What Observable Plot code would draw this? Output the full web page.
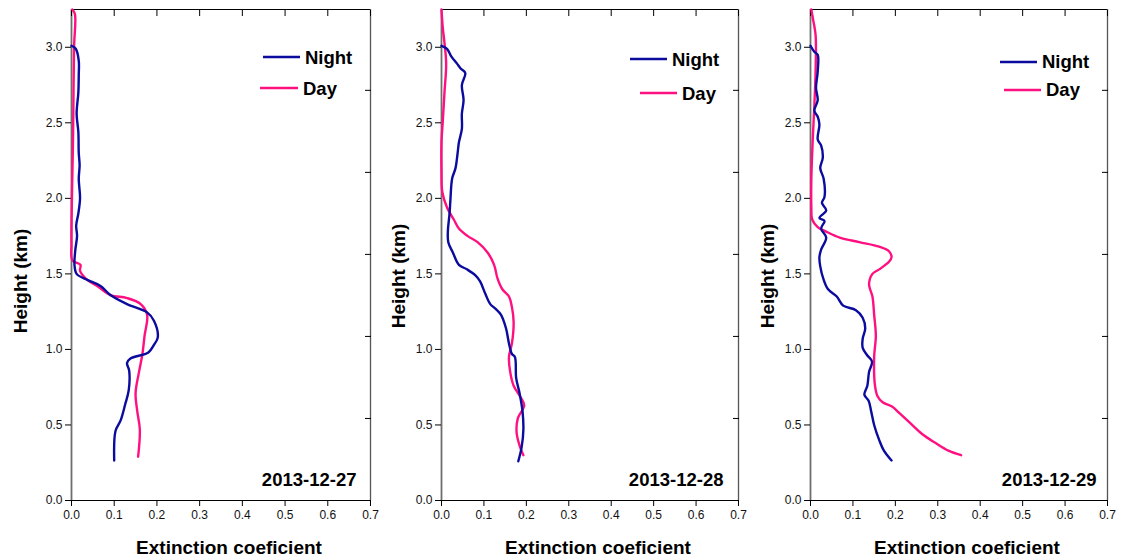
<!DOCTYPE html>
<html><head><meta charset="utf-8">
<script src="https://cdn.jsdelivr.net/npm/d3@7"></script>
<script src="https://cdn.jsdelivr.net/npm/@observablehq/plot@0.6"></script>
<style>
body{margin:0;background:#fff;}
#wrap{position:relative;width:1121px;height:560px;font-family:"Liberation Sans",Arial,sans-serif;overflow:hidden;}
.panel{position:absolute;top:0;}
#legend{position:absolute;left:0;top:0;pointer-events:none;}
</style></head><body><div id="wrap"></div>
<script>
const dates = ["2013-12-27", "2013-12-28", "2013-12-29"];
const seriesNames = ["Night", "Day"];
const seriesColors = ["#0b0b9e", "#ff1080"];
const xTicks = [0, 0.1, 0.2, 0.3, 0.4, 0.5, 0.6, 0.7];
const yTicks = [0, 0.5, 1.0, 1.5, 2.0, 2.5, 3.0];
const rightTicks = [0.543, 1.086, 1.629, 2.172, 2.715];
const xTitle = "Extinction coeficient";
const yTitle = "Height (km)";

// [extinction, height km], bottom to top
const night27 = [[0.100,0.265],[0.103,0.46],[0.115,0.53],[0.126,0.64],[0.134,0.73],[0.135,0.86],[0.130,0.91],[0.138,0.94],[0.180,0.98],[0.193,1.03],[0.202,1.08],[0.193,1.19],[0.177,1.245],[0.130,1.30],[0.091,1.36],[0.068,1.42],[0.037,1.46],[0.012,1.50],[0.007,1.56],[0.009,1.66],[0.013,1.75],[0.011,1.82],[0.016,1.90],[0.020,2.00],[0.017,2.13],[0.019,2.22],[0.017,2.30],[0.016,2.44],[0.012,2.56],[0.016,2.70],[0.017,2.82],[0.017,2.91],[0.010,2.99],[0.000,3.01]];
const day27 = [[0.156,0.29],[0.160,0.47],[0.154,0.59],[0.150,0.71],[0.158,0.85],[0.166,0.97],[0.171,1.09],[0.177,1.23],[0.162,1.30],[0.130,1.34],[0.091,1.36],[0.060,1.42],[0.037,1.46],[0.020,1.52],[0.021,1.56],[0.002,1.59],[0.000,1.70],[0.001,2.00],[0.003,2.30],[0.004,2.50],[0.006,3.00],[0.008,3.22],[0.002,3.25]];
const night28 = [[0.181,0.26],[0.189,0.355],[0.193,0.47],[0.191,0.59],[0.184,0.71],[0.176,0.81],[0.173,0.95],[0.166,0.97],[0.159,1.04],[0.152,1.14],[0.140,1.23],[0.127,1.27],[0.115,1.30],[0.103,1.37],[0.091,1.45],[0.080,1.49],[0.060,1.53],[0.041,1.56],[0.027,1.64],[0.016,1.71],[0.015,1.78],[0.019,1.90],[0.021,1.99],[0.025,2.13],[0.033,2.20],[0.038,2.30],[0.041,2.37],[0.048,2.46],[0.048,2.56],[0.052,2.65],[0.048,2.75],[0.056,2.83],[0.045,2.86],[0.037,2.89],[0.023,2.94],[0.013,2.99],[0.000,3.01]];
const day28 = [[0.193,0.30],[0.185,0.355],[0.177,0.45],[0.180,0.545],[0.195,0.63],[0.185,0.69],[0.170,0.76],[0.162,0.85],[0.159,0.95],[0.166,1.04],[0.170,1.18],[0.166,1.28],[0.159,1.35],[0.143,1.40],[0.132,1.47],[0.124,1.56],[0.109,1.64],[0.085,1.71],[0.062,1.75],[0.041,1.80],[0.029,1.86],[0.013,1.94],[0.002,2.04],[0.000,2.18],[0.000,2.37],[0.003,2.51],[0.007,2.70],[0.011,2.89],[0.007,3.03],[0.003,3.13],[0.000,3.25]];
const night29 = [[0.191,0.265],[0.173,0.33],[0.162,0.40],[0.150,0.50],[0.143,0.59],[0.137,0.66],[0.127,0.70],[0.134,0.76],[0.138,0.85],[0.145,0.92],[0.134,0.96],[0.123,1.01],[0.123,1.07],[0.129,1.14],[0.123,1.21],[0.107,1.26],[0.077,1.29],[0.062,1.35],[0.041,1.40],[0.030,1.47],[0.023,1.55],[0.021,1.61],[0.025,1.66],[0.037,1.74],[0.025,1.80],[0.033,1.85],[0.021,1.87],[0.037,1.92],[0.027,1.97],[0.033,2.01],[0.031,2.13],[0.023,2.20],[0.029,2.27],[0.025,2.35],[0.017,2.39],[0.021,2.49],[0.017,2.54],[0.009,2.58],[0.017,2.65],[0.013,2.73],[0.017,2.84],[0.017,2.95],[0.009,2.97],[0.000,3.01]];
const day29 = [[0.355,0.30],[0.325,0.33],[0.295,0.38],[0.263,0.44],[0.232,0.52],[0.209,0.58],[0.193,0.62],[0.170,0.65],[0.158,0.69],[0.152,0.76],[0.150,0.95],[0.154,1.09],[0.150,1.23],[0.146,1.35],[0.138,1.43],[0.146,1.50],[0.162,1.53],[0.185,1.58],[0.191,1.61],[0.185,1.65],[0.162,1.68],[0.115,1.71],[0.069,1.74],[0.037,1.78],[0.017,1.81],[0.004,1.86],[0.002,1.94],[0.002,2.13],[0.005,2.37],[0.009,2.61],[0.012,2.84],[0.012,3.08],[0.005,3.20],[0.002,3.25]];

const nightSeries = [night27, night28, night29];
const daySeries = [day27, day28, day29];

// layout of the three panels
const layout = [
  {left: 0,   width: 380, ml: 71, mr: 10, ddx: -14, tx: 20,  ty: 281},
  {left: 380, width: 370, ml: 61, mr: 12, ddx: -15, tx: 398, ty: 276},
  {left: 750, width: 371, ml: 60, mr: 14, ddx: -11, tx: 767, ty: 276}
];
const legendPos = [
  {n: [263, 300, 57, 305, 64], d: [260, 298, 88, 303, 95]},
  {n: [630, 667, 59, 672, 66], d: [640, 677, 93, 682, 100]},
  {n: [1000, 1037, 62, 1042, 68], d: [1004, 1041, 90, 1046, 96]}
];

const wrap = document.getElementById("wrap");
const fmt = d3.format(".1f");
const font = "'Liberation Sans', Arial, sans-serif";

layout.forEach((L, i) => {
  const chart = Plot.plot({
    width: L.width, height: 560,
    marginLeft: L.ml, marginRight: L.mr, marginTop: 9, marginBottom: 60,
    style: {fontFamily: font, fontSize: "12px", color: "#111", background: "white", overflow: "visible"},
    x: {domain: [0, 0.7]},
    y: {domain: [0, 3.25]},
    marks: [
      Plot.ruleY([0], {stroke: "#000", strokeWidth: 1.2}),
      Plot.ruleY([3.25], {stroke: "#000", strokeWidth: 1.2}),
      Plot.ruleX([0], {stroke: "#6e6e6e", strokeWidth: 1.8}),
      Plot.ruleX([0.7], {stroke: "#555", strokeWidth: 1.3}),
      Plot.axisX({anchor: "bottom", ticks: xTicks, tickFormat: fmt, tickSize: 6, tickPadding: 4, label: null, stroke: "#000"}),
      Plot.axisX({anchor: "top", ticks: xTicks, tickSize: -6, tickFormat: () => "", label: null, stroke: "#000"}),
      Plot.axisY({anchor: "left", ticks: yTicks, tickFormat: fmt, tickSize: 6, tickPadding: 3, label: null, stroke: "#000"}),
      Plot.axisY({anchor: "right", ticks: rightTicks, tickSize: -6, tickFormat: () => "", label: null, stroke: "#000"}),
      Plot.line(daySeries[i], {x: d => d[0], y: d => d[1], stroke: seriesColors[1], strokeWidth: 2.4, curve: "catmull-rom"}),
      Plot.line(nightSeries[i], {x: d => d[0], y: d => d[1], stroke: seriesColors[0], strokeWidth: 2.4, curve: "catmull-rom"}),
      Plot.text([dates[i]], {frameAnchor: "bottom-right", dx: L.ddx, dy: -15, textAnchor: "end", lineAnchor: "bottom", fontSize: 18.5, fontWeight: "bold", fill: "#000"}),
      Plot.text([xTitle], {frameAnchor: "bottom", dx: 8, dy: 47, lineAnchor: "middle", fontSize: 19, fontWeight: "bold", fill: "#000"})
    ]
  });
  const div = document.createElement("div");
  div.className = "panel";
  div.style.left = L.left + "px";
  div.appendChild(chart);
  wrap.appendChild(div);
});

// legends and y-axis titles (overlay)
const ns = "http://www.w3.org/2000/svg";
const lg = document.createElementNS(ns, "svg");
lg.setAttribute("id", "legend");
lg.setAttribute("width", 1121);
lg.setAttribute("height", 560);
legendPos.forEach(p => {
  [p.n, p.d].forEach((e, k) => {
    const line = document.createElementNS(ns, "line");
    line.setAttribute("x1", e[0]); line.setAttribute("x2", e[1]);
    line.setAttribute("y1", e[2]); line.setAttribute("y2", e[2]);
    line.setAttribute("stroke", seriesColors[k]); line.setAttribute("stroke-width", 2.3);
    lg.appendChild(line);
    const t = document.createElementNS(ns, "text");
    t.setAttribute("x", e[3]); t.setAttribute("y", e[4]);
    t.setAttribute("font-family", font); t.setAttribute("font-size", 18.5);
    t.setAttribute("font-weight", "bold"); t.setAttribute("fill", "#000");
    t.textContent = seriesNames[k];
    lg.appendChild(t);
  });
});
layout.forEach(L => {
  const t = document.createElementNS(ns, "text");
  t.setAttribute("transform", `translate(${L.tx},${L.ty}) rotate(-90)`);
  t.setAttribute("text-anchor", "middle");
  t.setAttribute("dy", "0.35em");
  t.setAttribute("font-family", font); t.setAttribute("font-size", 19);
  t.setAttribute("font-weight", "bold"); t.setAttribute("fill", "#000");
  t.textContent = yTitle;
  lg.appendChild(t);
});
wrap.appendChild(lg);
</script>
</body></html>
